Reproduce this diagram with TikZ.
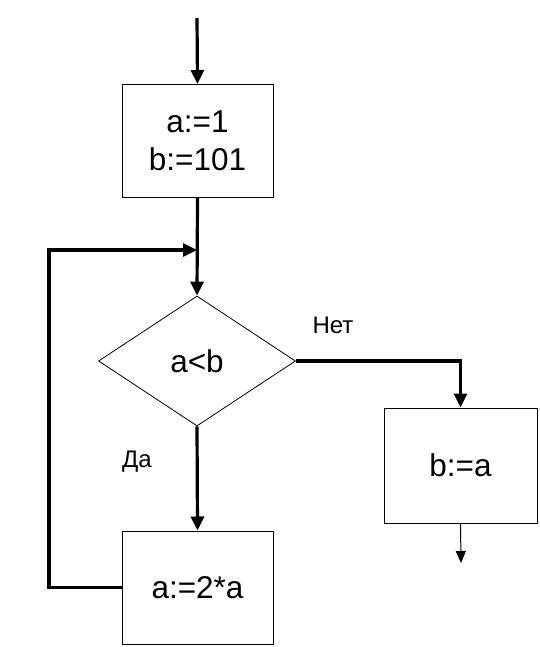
\documentclass[tikz,border=0pt]{standalone}
\usepackage{fontspec}
\setmainfont{Liberation Sans}
\usetikzlibrary{arrows.meta, positioning, shapes.geometric}
\tikzset{
  every picture/.style={x=1pt, y=-1pt},
  block/.style={draw, line width=1pt, minimum width=151pt, minimum height=113pt, align=center, inner sep=0pt,
    font=\fontsize{31.5}{38}\selectfont},
  decision/.style={diamond, draw, line width=0.8pt, minimum width=197pt, minimum height=130pt, inner sep=0pt,
    font=\fontsize{31.5}{38}\selectfont},
  flow/.style={-{Triangle[length=14pt, width=13pt]}, line width=3.2pt},
  thinflow/.style={-{Triangle[length=12pt, width=10pt]}, line width=1pt},
  label/.style={font=\fontsize{24}{28}\selectfont},
}

\begin{document}
\begin{tikzpicture}
  \useasboundingbox (0,0) rectangle (539,647);
  % blocks
  \node[block] (init) at (197.5,141) {a:=1\\b:=101};
  \node[decision] (cond) at (197,361) {a<b};
  \node[block, minimum width=153pt, minimum height=115pt] (swap) at (460.5,465.5) {b:=a};
  \node[block] (body) at (197.5,587.5) {a:=2*a};
  % free ends
  \coordinate (start) at (197,18);
  \coordinate (join) at (197,250);
  \coordinate (corner) at (49,250);
  \coordinate (stop) at (461,563);
  % connectors
  \draw[flow] (start) -- (init.north);
  \draw[flow] (init.south) -- (cond.north);
  \draw[flow] (body.west) -| (corner) -- (join);
  \draw[flow] (cond.east) -| (swap.north);
  \draw[flow] (cond.south) -- (body.north);
  \draw[thinflow] (swap.south) -- (stop);
  % branch labels
  \node[label] (no) at (333,325) {Нет};
  \node[label] (yes) at (137,462) {Да};
\end{tikzpicture}
\end{document}
